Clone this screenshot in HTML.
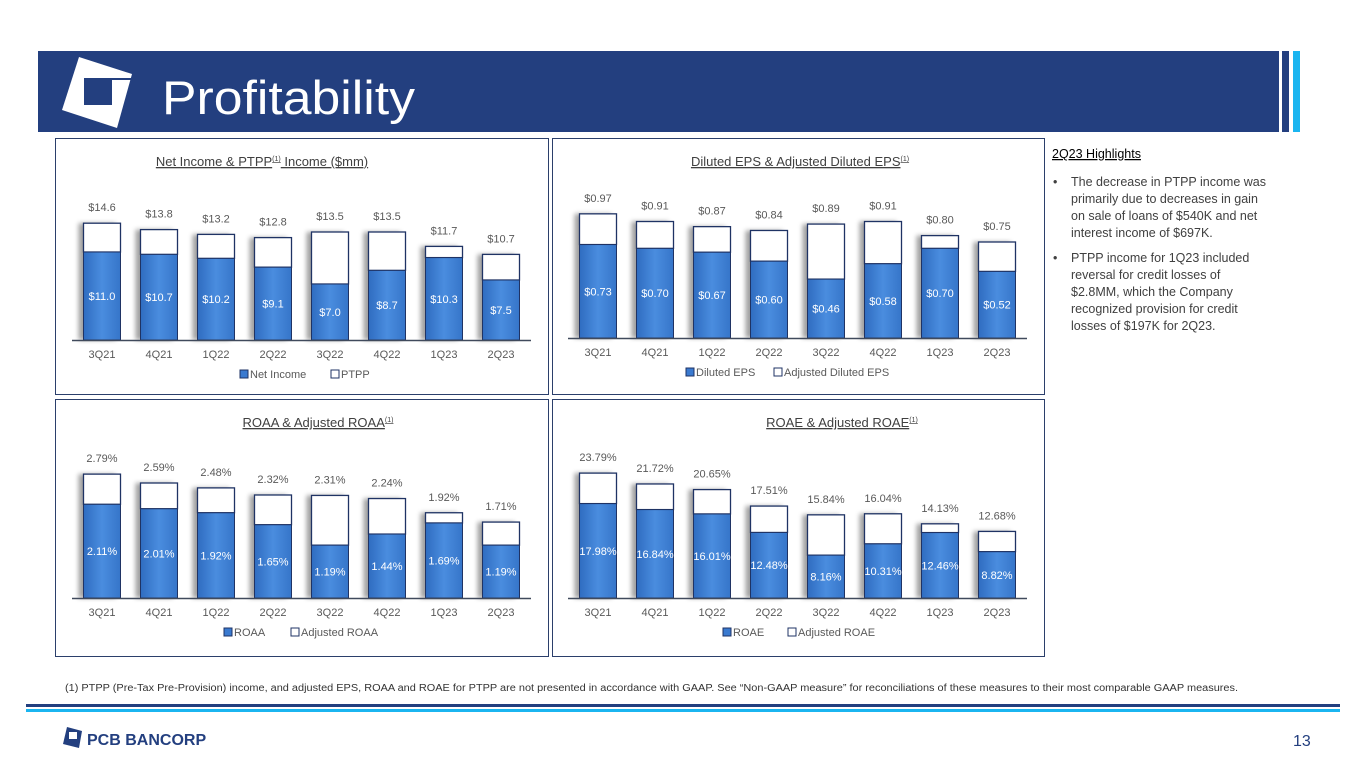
<!DOCTYPE html>
<html><head><meta charset="utf-8"><style>
html,body{margin:0;padding:0;background:#fff;}
svg{display:block;font-family:"Liberation Sans",sans-serif;}
</style></head><body>
<svg id="page" width="1365" height="768" viewBox="0 0 1365 768">
<defs>
<linearGradient id="blue" x1="0" y1="0" x2="1" y2="0"><stop offset="0" stop-color="#2f6cc0"/><stop offset="0.5" stop-color="#4a8ddf"/><stop offset="1" stop-color="#3675c9"/></linearGradient>
<filter id="sh" x="-30%" y="-10%" width="160%" height="120%"><feGaussianBlur stdDeviation="2.5"/></filter>
</defs>
<g>
<rect x="38" y="51" width="1241" height="81" fill="#233f7f"/>
<rect x="1282" y="51" width="7" height="81" fill="#233f7f"/>
<rect x="1293" y="51" width="7" height="81" fill="#1bb5f0"/>
<g>
<polygon points="79,57 132,74 117,128 62,110" fill="#fff"/>
<rect x="84" y="78" width="28" height="27" fill="#233f7f"/>
<polygon points="112,78 132,78 131,80 112,80" fill="#233f7f"/>
</g>
<text x="162" y="114" font-size="47" fill="#fff" textLength="253" lengthAdjust="spacingAndGlyphs">Profitability</text>
</g>
<rect x="55.5" y="138.5" width="493" height="256" fill="none" stroke="#2b3f6b"/>
<rect x="552.5" y="138.5" width="492" height="256" fill="none" stroke="#2b3f6b"/>
<rect x="55.5" y="399.5" width="493" height="257" fill="none" stroke="#2b3f6b"/>
<rect x="552.5" y="399.5" width="492" height="257" fill="none" stroke="#2b3f6b"/>
<g id="charts"></g>
<g font-size="12.5" fill="#404040">
<text x="1052" y="158" font-size="12.5" fill="#000" text-decoration="underline">2Q23 Highlights</text>
<text x="1053" y="186">•</text>
<text x="1071" y="186">The decrease in PTPP income was</text>
<text x="1071" y="203">primarily due to decreases in gain</text>
<text x="1071" y="220">on sale of loans of $540K and net</text>
<text x="1071" y="237">interest income of $697K.</text>
<text x="1053" y="262">•</text>
<text x="1071" y="262">PTPP income for 1Q23 included</text>
<text x="1071" y="279">reversal for credit losses of</text>
<text x="1071" y="296">$2.8MM, which the Company</text>
<text x="1071" y="313">recognized provision for credit</text>
<text x="1071" y="330">losses of $197K for 2Q23.</text>
</g>
<text x="65" y="691" font-size="10" fill="#333" textLength="1173" lengthAdjust="spacingAndGlyphs">(1)     PTPP (Pre-Tax Pre-Provision) income, and adjusted EPS, ROAA and ROAE for PTPP are not presented in accordance with GAAP. See “Non-GAAP measure” for reconciliations of these measures to their most comparable GAAP measures.</text>
<rect x="26" y="704" width="1314" height="3" fill="#233f7f"/>
<rect x="26" y="709" width="1314" height="3" fill="#1bb5f0"/>
<g>
<polygon points="67,727 82,731 79,748 63,744" fill="#233f7f"/>
<rect x="69" y="732" width="8" height="7" fill="#fff"/>
<text x="87" y="745" font-size="16" font-weight="bold" fill="#233f7f">PCB BANCORP</text>
</g>
<text x="1293" y="746" font-size="16" fill="#233f7f">13</text>
</svg>
<script>
const categories=["3Q21","4Q21","1Q22","2Q22","3Q22","4Q22","1Q23","2Q23"];
const netIncome=[11.0,10.7,10.2,9.1,7.0,8.7,10.3,7.5];
const ptpp=[14.6,13.8,13.2,12.8,13.5,13.5,11.7,10.7];
const dilutedEps=[0.73,0.70,0.67,0.60,0.46,0.58,0.70,0.52];
const adjDilutedEps=[0.97,0.91,0.87,0.84,0.89,0.91,0.80,0.75];
const roaa=[2.11,2.01,1.92,1.65,1.19,1.44,1.69,1.19];
const adjRoaa=[2.79,2.59,2.48,2.32,2.31,2.24,1.92,1.71];
const roae=[17.98,16.84,16.01,12.48,8.16,10.31,12.46,8.82];
const adjRoae=[23.79,21.72,20.65,17.51,15.84,16.04,14.13,12.68];

const NS="http://www.w3.org/2000/svg";
const root=document.getElementById('charts');
function mk(tag,attrs,parent){const e=document.createElementNS(NS,tag);for(const k in attrs)e.setAttribute(k,attrs[k]);parent.appendChild(e);return e;}
function chart(cfg){
  const g=mk('g',{},root);
  
  
  const x0=cfg.x0, step=57, bw=37;
  const xS=i=>x0+i*step;
  const yS=v=>cfg.base-v*cfg.scale;
  const t=mk('text',{x:cfg.tx,y:cfg.ty,'font-size':13,fill:'#404040','text-anchor':'middle','text-decoration':'underline'},g);
  t.textContent=cfg.title;
  
  
  if(cfg.sup){const s=mk('tspan',{'font-size':7,dy:-5},t);s.textContent='(1)';const s2=mk('tspan',{dy:5},t);s2.textContent=cfg.title2||'';}
  categories.forEach((c,i)=>{
    const cx=xS(i), l=cx-bw/2;
    const a=cfg.adj[i], b=cfg.main[i];
    const sh=mk('rect',{x:l-5,y:yS(a),width:bw,height:yS(0)-yS(a),fill:'#555',opacity:0.55,filter:'url(#sh)'},g);
    
    
    const ra=mk('rect',{x:l,y:yS(a),width:bw,height:yS(b)-yS(a),fill:'#fff',stroke:'#1f3364','stroke-width':1.3},g);
    
    
    const rb=mk('rect',{x:l,y:yS(b),width:bw,height:yS(0)-yS(b),fill:'url(#blue)',stroke:'#1f3364','stroke-width':1},g);
    
    
    const lt=mk('text',{x:cx,y:yS(a)-12,'font-size':11,fill:'#595959','text-anchor':'middle'},g);
    lt.textContent=cfg.fmt(a);
    
    
    const li=mk('text',{x:cx,y:(yS(b)+yS(0))/2+4,'font-size':11,fill:'#fff','text-anchor':'middle'},g);
    li.textContent=cfg.fmt(b);
    
    
    const xl=mk('text',{x:cx,y:cfg.base+18,'font-size':11,fill:'#595959','text-anchor':'middle'},g);
    xl.textContent=c;
    
    
  });
  const ax=mk('line',{x1:x0-30,x2:xS(7)+30,y1:cfg.base+0.5,y2:cfg.base+0.5,stroke:'#404a5c','stroke-width':1.5},g);
  
  
  const ly=cfg.base+38, lx=cfg.lx;
  const k1=mk('rect',{x:lx,y:ly-8,width:8,height:8,fill:'#3a7ad0',stroke:'#1f3364'},g);
  
  
  const t1=mk('text',{x:lx+10,y:ly,'font-size':11,fill:'#595959'},g);t1.textContent=cfg.l1;
  
  
  const k2=mk('rect',{x:lx+cfg.lgap,y:ly-8,width:8,height:8,fill:'#fff',stroke:'#1f3364'},g);
  
  
  const t2=mk('text',{x:lx+cfg.lgap+10,y:ly,'font-size':11,fill:'#595959'},g);t2.textContent=cfg.l2;
  
  
}
chart({name:'net-income-chart',x0:102,base:340,scale:8.0,main:netIncome,adj:ptpp,fmt:v=>'$'+v.toFixed(1),tx:262,ty:166,title:'Net Income & PTPP',sup:true,title2:' Income ($mm)',lx:240,lgap:91,l1:'Net Income',l2:'PTPP'});
chart({name:'eps-chart',x0:598,base:338,scale:128,main:dilutedEps,adj:adjDilutedEps,fmt:v=>'$'+v.toFixed(2),tx:800,ty:166,title:'Diluted EPS & Adjusted Diluted EPS',sup:true,lx:686,lgap:88,l1:'Diluted EPS',l2:'Adjusted Diluted EPS'});
chart({name:'roaa-chart',x0:102,base:598,scale:44.4,main:roaa,adj:adjRoaa,fmt:v=>v.toFixed(2)+'%',tx:318,ty:427,title:'ROAA & Adjusted ROAA',sup:true,lx:224,lgap:67,l1:'ROAA',l2:'Adjusted ROAA'});
chart({name:'roae-chart',x0:598,base:598,scale:5.25,main:roae,adj:adjRoae,fmt:v=>v.toFixed(2)+'%',tx:842,ty:427,title:'ROAE & Adjusted ROAE',sup:true,lx:723,lgap:65,l1:'ROAE',l2:'Adjusted ROAE'});
</script>
</body></html>
